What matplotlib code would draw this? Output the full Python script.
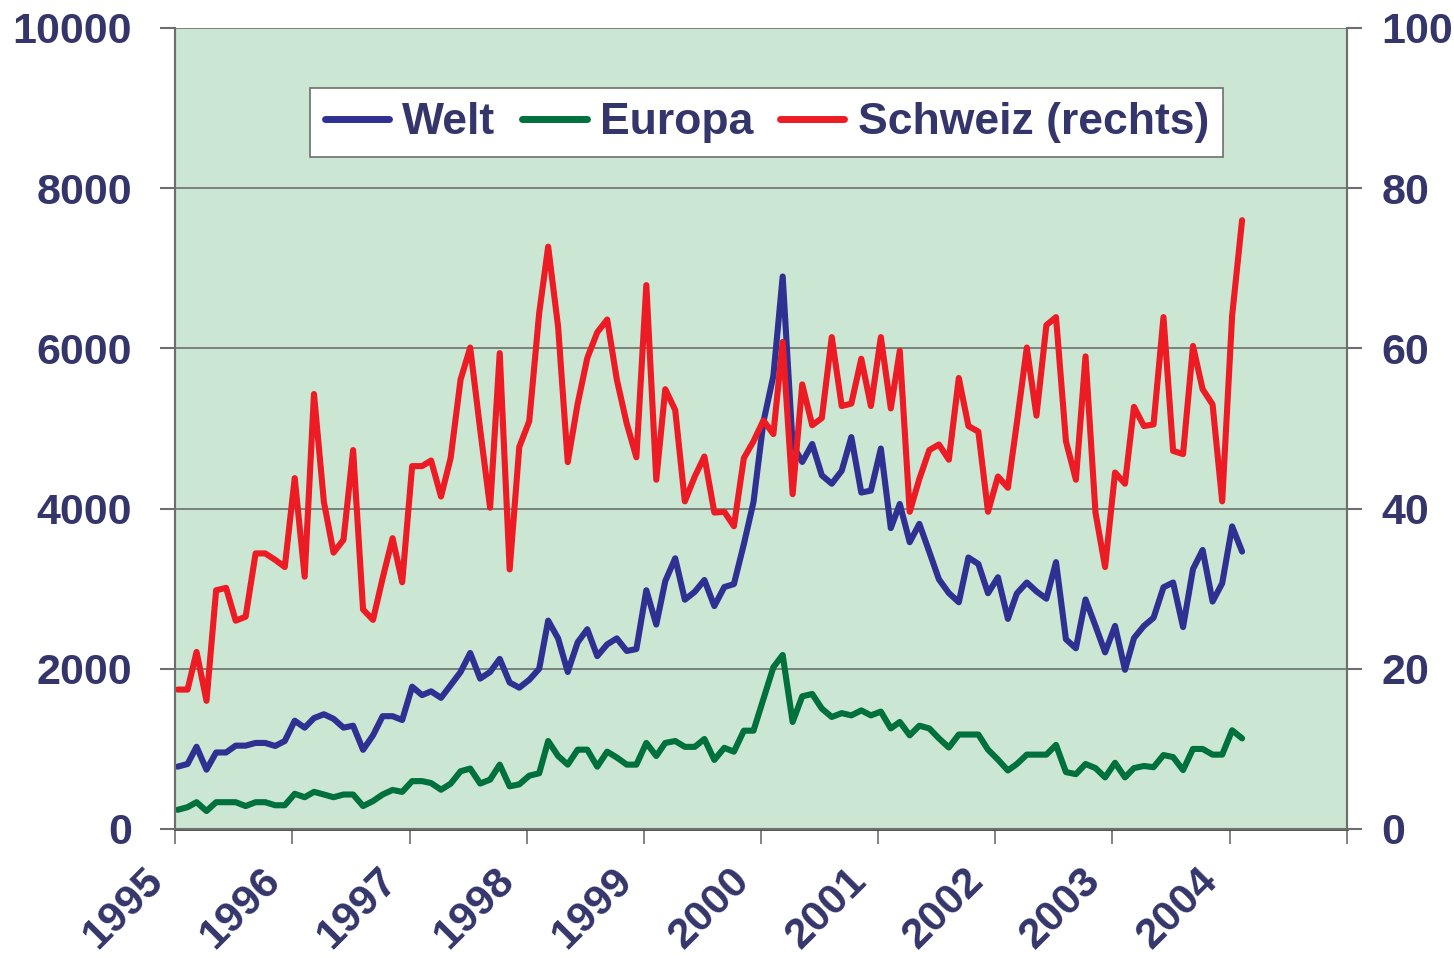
import matplotlib
matplotlib.use("Agg")
import matplotlib.pyplot as plt
import matplotlib.transforms as mtransforms
import pandas as pd

# ------------------ Daten (monatlich, Jan 1995 - Feb 2004) ------------------
welt = [778, 811, 1026, 740, 955, 955, 1040, 1040, 1074, 1074,
        1036, 1098, 1351, 1265, 1384, 1432, 1375, 1265, 1289, 988,
        1169, 1408, 1408, 1360, 1776, 1671, 1718, 1637, 1795, 1960,
        2197, 1877, 1960, 2123, 1828, 1764, 1862, 2000, 2601, 2379,
        1960, 2330, 2493, 2158, 2305, 2379, 2222, 2246, 2980, 2552,
        3094, 3379, 2862, 2961, 3108, 2783, 3020, 3057, 3556, 4081,
        5083, 5656, 6897, 4797, 4582, 4806, 4415, 4310, 4472, 4892,
        4200, 4224, 4749, 3756, 4057, 3580, 3809, 3460, 3117, 2945,
        2830, 3389, 3308, 2943, 3142, 2623, 2941, 3077, 2966, 2875,
        3331, 2368, 2256, 2865, 2535, 2205, 2535, 1987, 2383, 2535,
        2636, 3017, 3077, 2520, 3245, 3483, 2839, 3067, 3777, 3463]

europa = [239, 272, 334, 224, 334, 334, 334, 286, 334, 334,
          296, 296, 439, 396, 463, 430, 396, 430, 430, 286,
          348, 430, 487, 463, 597, 597, 573, 490, 565, 720,
          754, 567, 616, 803, 532, 557, 665, 695, 1098, 911,
          803, 990, 990, 778, 965, 892, 803, 803, 1074, 911,
          1074, 1098, 1025, 1025, 1123, 862, 1013, 965, 1227, 1227,
          1623, 2019, 2172, 1336, 1656, 1685, 1503, 1398, 1446, 1418,
          1480, 1418, 1465, 1255, 1336, 1169, 1289, 1255, 1131, 1017,
          1179, 1179, 1179, 990, 866, 730, 811, 928, 928, 928,
          1049, 710, 684, 811, 760, 644, 826, 644, 760, 786,
          771, 923, 897, 735, 999, 999, 928, 928, 1232, 1131]

schweiz = [17.4, 17.4, 22.1, 16.0, 29.8, 30.1, 26.0, 26.5, 34.4, 34.4,
           33.6, 32.7, 43.8, 31.5, 54.3, 40.8, 34.5, 36.1, 47.3, 27.4,
           26.1, 31.3, 36.3, 30.8, 45.3, 45.3, 46.0, 41.5, 46.3, 56.1,
           60.1, 49.9, 40.1, 59.4, 32.4, 47.7, 50.9, 64.4, 72.7, 62.7,
           45.8, 53.1, 58.8, 62.0, 63.6, 56.1, 50.6, 46.4, 67.9, 43.6,
           54.9, 52.3, 40.9, 44.0, 46.5, 39.5, 39.6, 37.8, 46.3, 48.4,
           51.0, 49.3, 60.8, 41.8, 55.5, 50.4, 51.3, 61.4, 52.8, 53.1,
           58.7, 52.8, 61.4, 52.5, 59.7, 39.6, 43.7, 47.3, 48.0, 46.1,
           56.3, 50.3, 49.6, 39.6, 44.0, 42.6, 50.7, 60.1, 51.6, 62.9,
           63.9, 48.4, 43.6, 59.0, 39.5, 32.7, 44.5, 43.1, 52.7, 50.3,
           50.5, 63.9, 47.2, 46.8, 60.3, 54.9, 53.0, 40.9, 64.1, 76.0]

jahre = list(range(1995, 2006))
jahr_labels = [str(j) for j in range(1995, 2005)] + [""]
links_ticks = [0, 2000, 4000, 6000, 8000, 10000]
rechts_ticks = [0, 20, 40, 60, 80, 100]

datum = pd.date_range("1995-01-01", periods=len(welt), freq="MS") + pd.Timedelta(days=8)

# ------------------ Stil ------------------
plt.rcParams["font.family"] = ["Liberation Sans", "DejaVu Sans"]
textfarbe = "#34356a"
bg = "#cce6d4"

fig = plt.figure(figsize=(14.54, 9.58), dpi=100)
ax = fig.add_axes([0.1204, 0.1347, 0.806, 0.8361])
ax2 = ax.twinx()

ax.set_facecolor(bg)
ax.set_zorder(ax2.get_zorder() - 1)
ax2.patch.set_visible(False)

lw = 4.4
l1, = ax2.plot(datum, [w / 100 for w in welt], color="#2e3192", lw=lw,
               solid_joinstyle="round", solid_capstyle="round", label="Welt")
l2, = ax2.plot(datum, [e / 100 for e in europa], color="#00703c", lw=lw,
               solid_joinstyle="round", solid_capstyle="round", label="Europa")
l3, = ax2.plot(datum, schweiz, color="#ed1c24", lw=lw,
               solid_joinstyle="round", solid_capstyle="round",
               label="Schweiz (rechts)")

# linke Achse
ax.set_ylim(0, 10000)
ax.set_yticks(links_ticks)
ax.yaxis.grid(True, color="#6e6e6e", lw=1.2)
ax.set_axisbelow(True)
ax2.set_ylim(0, 100)
ax2.set_yticks(rechts_ticks)

# x-Achse
ax.set_xlim(pd.Timestamp("1995-01-01"), pd.Timestamp("2005-01-01"))
ax.set_xticks([pd.Timestamp(f"{j}-01-01") for j in jahre])
ax.set_xticklabels(jahr_labels)

for a in (ax, ax2):
    for s in a.spines.values():
        s.set_color("#6e6e6e")
        s.set_linewidth(1.5)
    a.spines["top"].set_visible(False)

ax.spines["bottom"].set_color("#444444")
ax.spines["bottom"].set_linewidth(2)

ax.tick_params(axis="y", length=11, width=1.5, color="#6e6e6e", pad=20,
               labelsize=31, labelcolor=textfarbe)
ax2.tick_params(axis="y", length=11, width=1.5, color="#6e6e6e", pad=14,
                labelsize=31, labelcolor=textfarbe)
ax.tick_params(axis="x", length=11, width=1.2, color="#6e6e6e", pad=22,
               labelsize=31, labelcolor=textfarbe)

for lab in ax.get_yticklabels() + ax2.get_yticklabels() + ax.get_xticklabels():
    lab.set_fontweight("bold")

verschiebung = mtransforms.ScaledTranslation(-18 / 100, 0, fig.dpi_scale_trans)
for lab in ax.get_xticklabels():
    lab.set_rotation(45)
    lab.set_ha("right")
    lab.set_va("center")
    lab.set_rotation_mode("anchor")
    lab.set_transform(lab.get_transform() + verschiebung)

leg = ax2.legend(handles=[l1, l2, l3], loc="upper center",
                 bbox_to_anchor=(0.505, 0.925), ncol=3, frameon=True,
                 fancybox=False, borderaxespad=0, handlelength=1.45,
                 handletextpad=0.3, columnspacing=0.6, borderpad=0.32,
                 framealpha=1, prop={"size": 32, "weight": "bold"})
leg.get_frame().set_edgecolor("#6e6e6e")
leg.get_frame().set_linewidth(1.2)
leg.get_frame().set_facecolor("white")
for t in leg.get_texts():
    t.set_color(textfarbe)
for h in leg.get_lines():
    h.set_linewidth(5)

fig.savefig("out.png", dpi=100, facecolor="white")
